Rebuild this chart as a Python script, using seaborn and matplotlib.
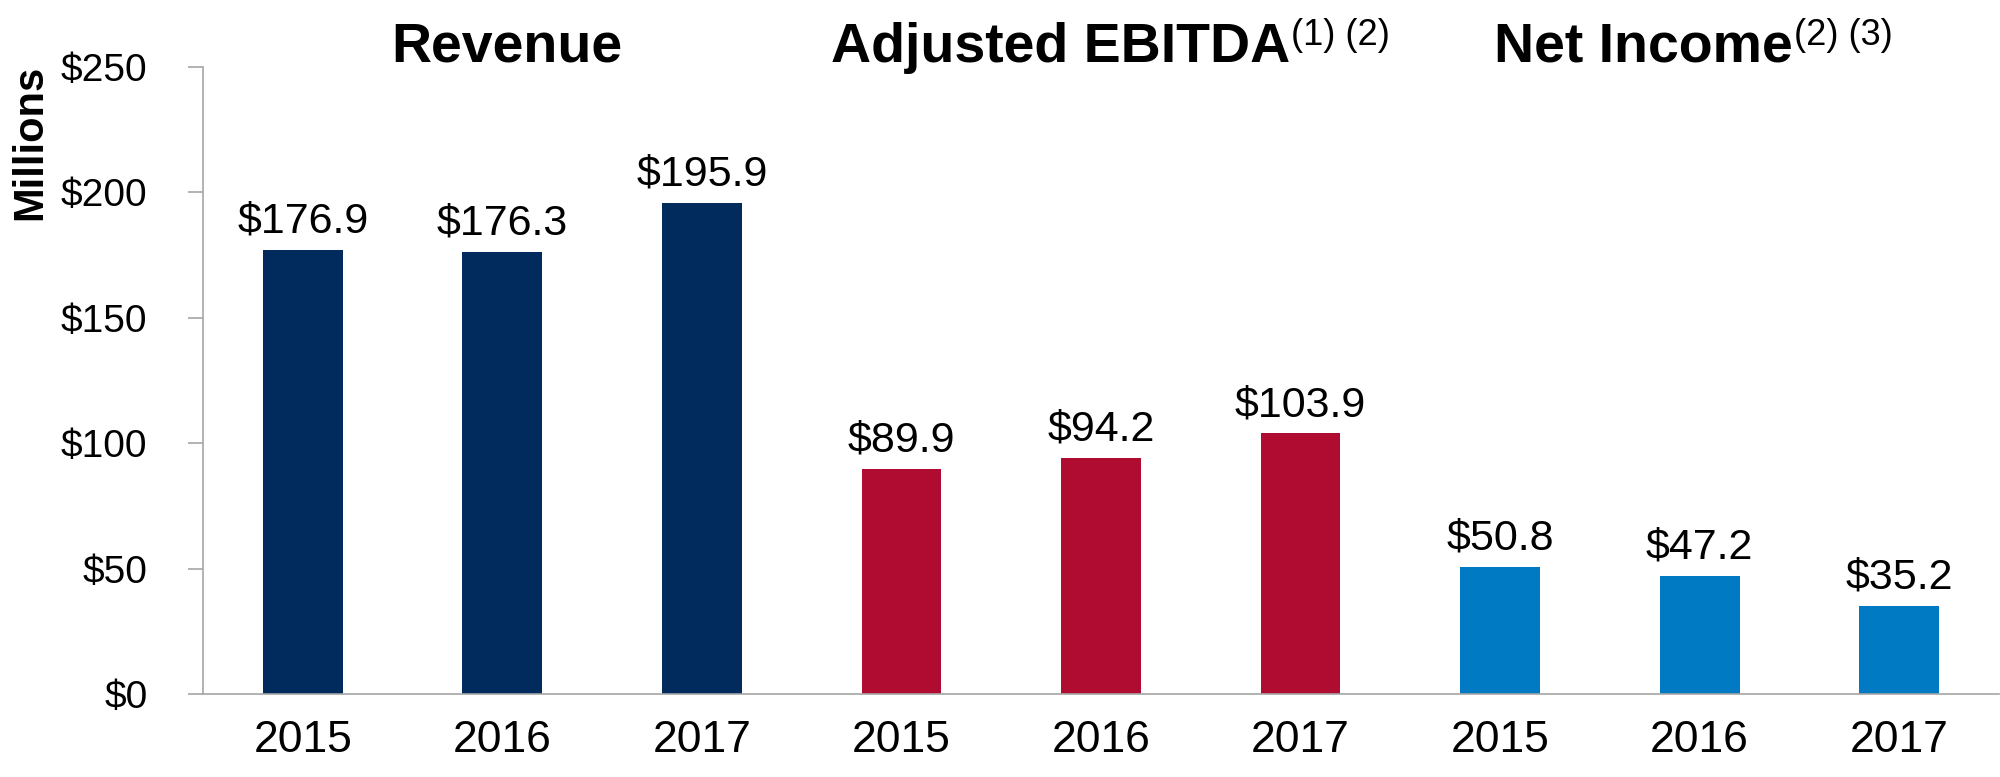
import matplotlib

matplotlib.use("Agg")
import matplotlib.pyplot as plt
import pandas as pd
import seaborn as sns
from matplotlib.ticker import FixedLocator

# values in $ millions
years = ["2015", "2016", "2017"]
metrics = ["Revenue", "Adjusted EBITDA", "Net Income"]
revenue = [176.9, 176.3, 195.9]
adj_ebitda = [89.9, 94.2, 103.9]
net_income = [50.8, 47.2, 35.2]
footnotes = {"Revenue": "", "Adjusted EBITDA": "(1) (2)", "Net Income": "(2) (3)"}
y_ticks = [0, 50, 100, 150, 200, 250]

colors = {"Revenue": "#002B5C", "Adjusted EBITDA": "#B00B30", "Net Income": "#007AC2"}

rows = []
for metric, vals in zip(metrics, [revenue, adj_ebitda, net_income]):
    for year, v in zip(years, vals):
        rows.append({"slot": f"{metric} {year}", "year": year, "metric": metric, "value": v})
df = pd.DataFrame(rows)

sns.set_style("white")
# no narrow Arial available, Liberation Sans has the same letter shapes
plt.rcParams["font.family"] = ["Liberation Sans Narrow", "Liberation Sans", "DejaVu Sans"]
plt.rcParams["text.color"] = "black"
plt.rcParams["axes.labelcolor"] = "black"

fig = plt.figure(figsize=(20, 7.77), dpi=100)
ax = fig.add_axes([0.1015, 0.1068, 0.898, 0.807])

sns.barplot(
    data=df, x="slot", y="value", hue="metric", palette=colors, saturation=1,
    dodge=False, width=0.4, linewidth=0, legend=False, ax=ax,
)

# value labels above each bar
for cont, metric in zip(ax.containers, metrics):
    vals = df.loc[df["metric"] == metric, "value"]
    ax.bar_label(cont, labels=[f"${v:.1f}" for v in vals], padding=6, fontsize=31, color="black")

ax.set_xlim(-0.5, len(df) - 0.5)
ax.set_ylim(0, 250)
ax.set_yticks(y_ticks)
ax.set_yticklabels([f"${t}" for t in y_ticks])
ax.set_xticks(range(len(df)))
ax.set_xticklabels(df["year"])
ax.xaxis.set_minor_locator(FixedLocator([i - 0.5 for i in range(len(df) + 1)]))

grey = "#A6A6A6"
ax.tick_params(axis="x", which="major", length=0, pad=19, labelsize=32, labelcolor="black")
ax.tick_params(axis="x", which="minor", length=10, width=1.2, color=grey, direction="out")
ax.tick_params(axis="y", length=11, width=1.2, color=grey, pad=29, labelsize=28,
               labelcolor="black", left=True)
for side in ["top", "right"]:
    ax.spines[side].set_visible(False)
for side in ["left", "bottom"]:
    ax.spines[side].set_color(grey)
    ax.spines[side].set_linewidth(1.2)

ax.set_xlabel("")
ax.set_ylabel("Millions", fontsize=30, fontweight="bold")
ax.yaxis.set_label_coords(-0.0963, 0.8796)
ax.yaxis.label.set_va("center")

# group titles with superscript footnote marks
title_x = {"Revenue": 1.02, "Adjusted EBITDA": 4.946, "Net Income": 7.466}
for metric in metrics:
    if footnotes[metric]:
        t = ax.text(title_x[metric], 252.0, metric, ha="right", va="baseline",
                    fontsize=40, fontweight="bold", clip_on=False)
        ax.annotate(footnotes[metric], xy=(1.0, 258.8), xycoords=(t, "data"),
                    xytext=(1, 0), textcoords="offset points",
                    ha="left", va="baseline", fontsize=26, annotation_clip=False)
    else:
        ax.text(title_x[metric], 252.0, metric, ha="center", va="baseline",
                fontsize=40, fontweight="bold", clip_on=False)

fig.savefig("out.png", dpi=100, facecolor="white")
